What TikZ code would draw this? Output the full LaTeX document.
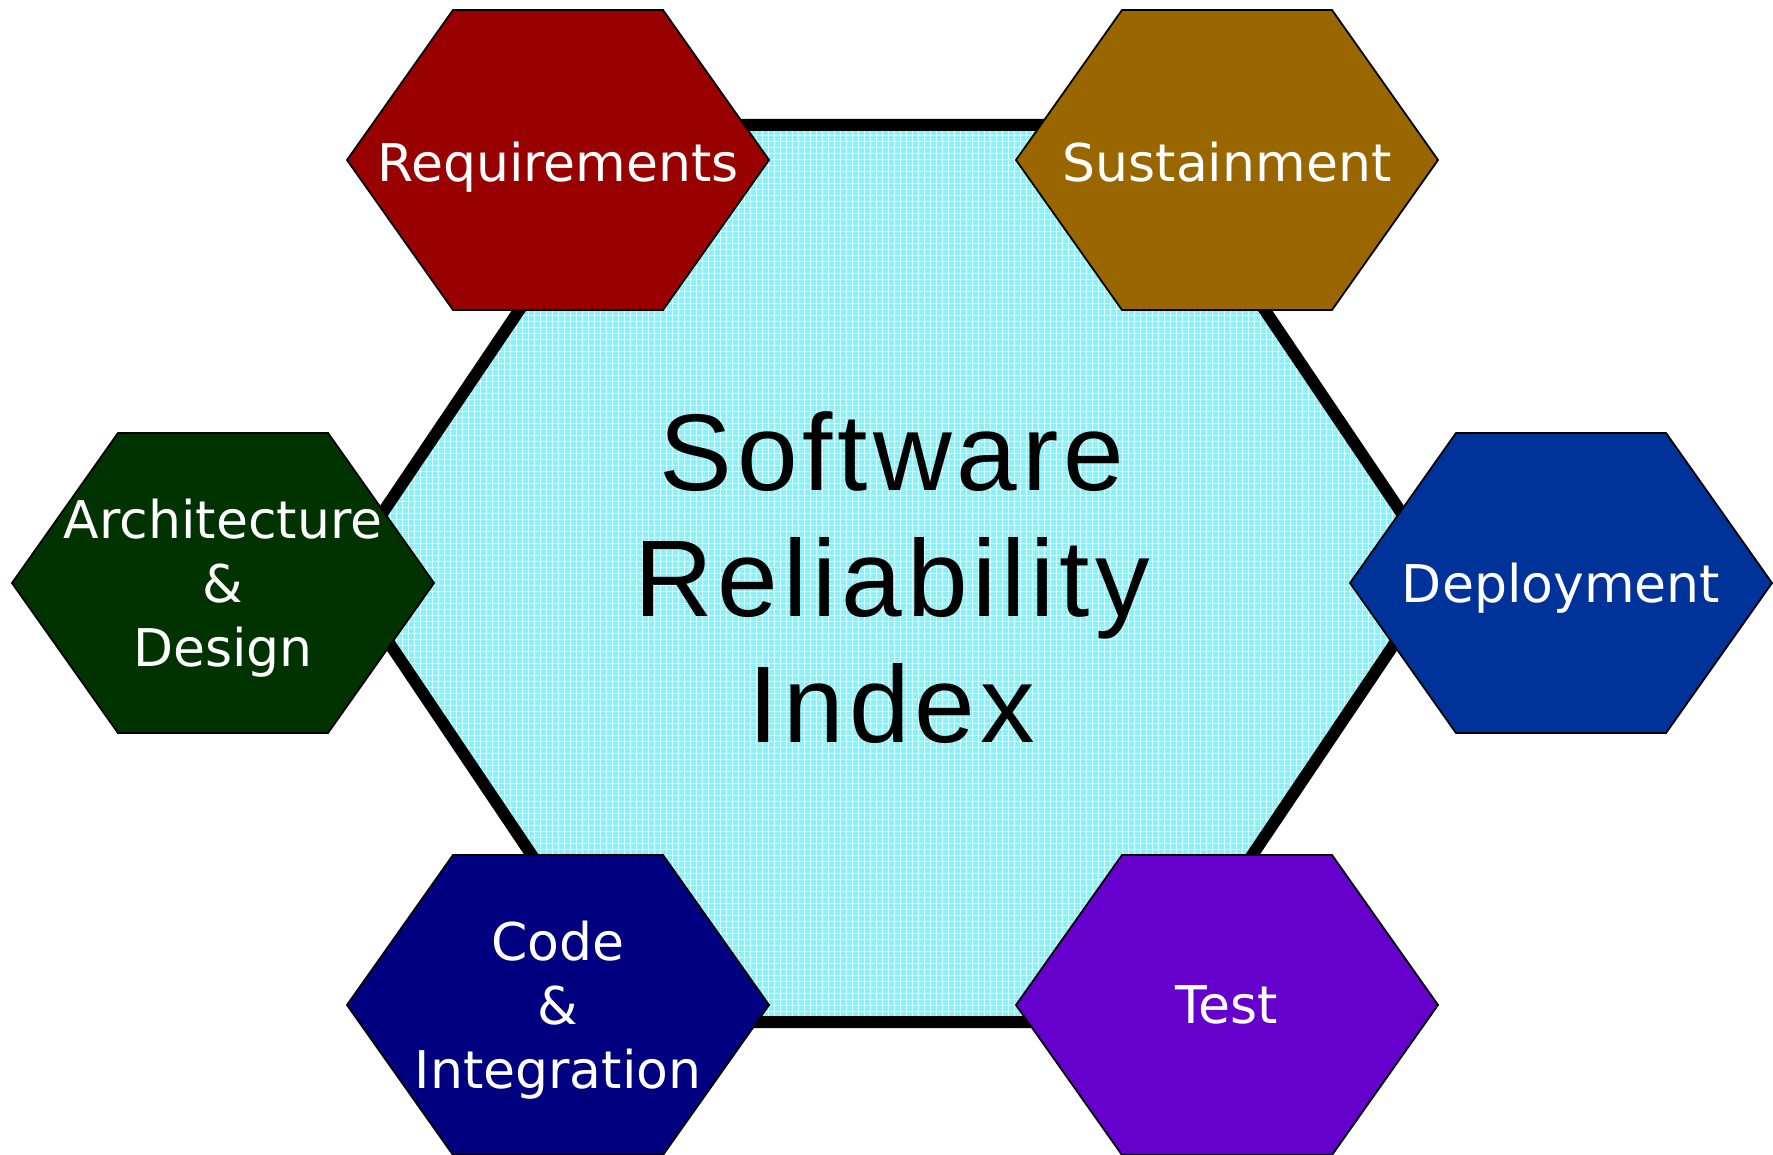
\documentclass[tikz,border=0pt]{standalone}
\usepackage{fontspec}
\setmainfont{DejaVu Sans}
\newfontfamily\srifont[LetterSpace=4.5]{Liberation Sans}
\usetikzlibrary{patterns}

\definecolor{reqred}{RGB}{153,0,0}
\definecolor{susbrown}{RGB}{153,102,0}
\definecolor{archgreen}{RGB}{0,51,0}
\definecolor{depblue}{RGB}{0,51,153}
\definecolor{codenavy}{RGB}{0,0,128}
\definecolor{testviolet}{RGB}{102,0,204}
\definecolor{srifill}{RGB}{140,240,246}

\tikzset{
  hexline/.style={draw=black, line width=0.9pt, line join=miter},
  pics/hexa/.style={code={
      \draw[hexline, fill=#1] (-211,0) -- (-105,-150) -- (105,-150)
        -- (211,0) -- (105,150) -- (-105,150) -- cycle;}},
  hexlabel/.style={text=white, align=center, inner sep=0pt, text depth=0pt,
    font=\fontsize{26}{32}\selectfont},
}

\begin{document}
\begin{tikzpicture}[x=0.5pt, y=-0.5pt]
            \useasboundingbox (0,0) rectangle (1773,1155);
            % the big hexagon in the middle
            \draw[line width=6pt, line join=miter, preaction={fill=srifill},
                  pattern=grid, pattern color=white!70!srifill]
                (342,573) -- (644,125) -- (1140,125) -- (1442,573)
                -- (1140,1022) -- (644,1022) -- cycle;
            \node[inner sep=0pt, text depth=0pt, align=center,
                  font=\srifont\fontsize{54.5}{63}\selectfont] (sri) at (892,577)
                {Software\\Reliability\\Index};
            % the six phases round it
            \pic at (558,160) {hexa=reqred};
            \pic at (1227,160) {hexa=susbrown};
            \pic at (223,583) {hexa=archgreen};
            \pic at (1561,583) {hexa=depblue};
            \pic at (558,1005) {hexa=codenavy};
            \pic at (1227,1005) {hexa=testviolet};
            \node[hexlabel] (req) at (558,162) {Requirements};
            \node[hexlabel] (sus) at (1227,162) {Sustainment};
            \node[hexlabel] (arch) at (223,583) {Architecture\\\&\\Design};
            \node[hexlabel] (dep) at (1561,583) {Deployment};
            \node[hexlabel] (code) at (558,1005) {Code\\\&\\Integration};
            \node[hexlabel] (test) at (1227,1005) {Test};
\end{tikzpicture}
\end{document}
